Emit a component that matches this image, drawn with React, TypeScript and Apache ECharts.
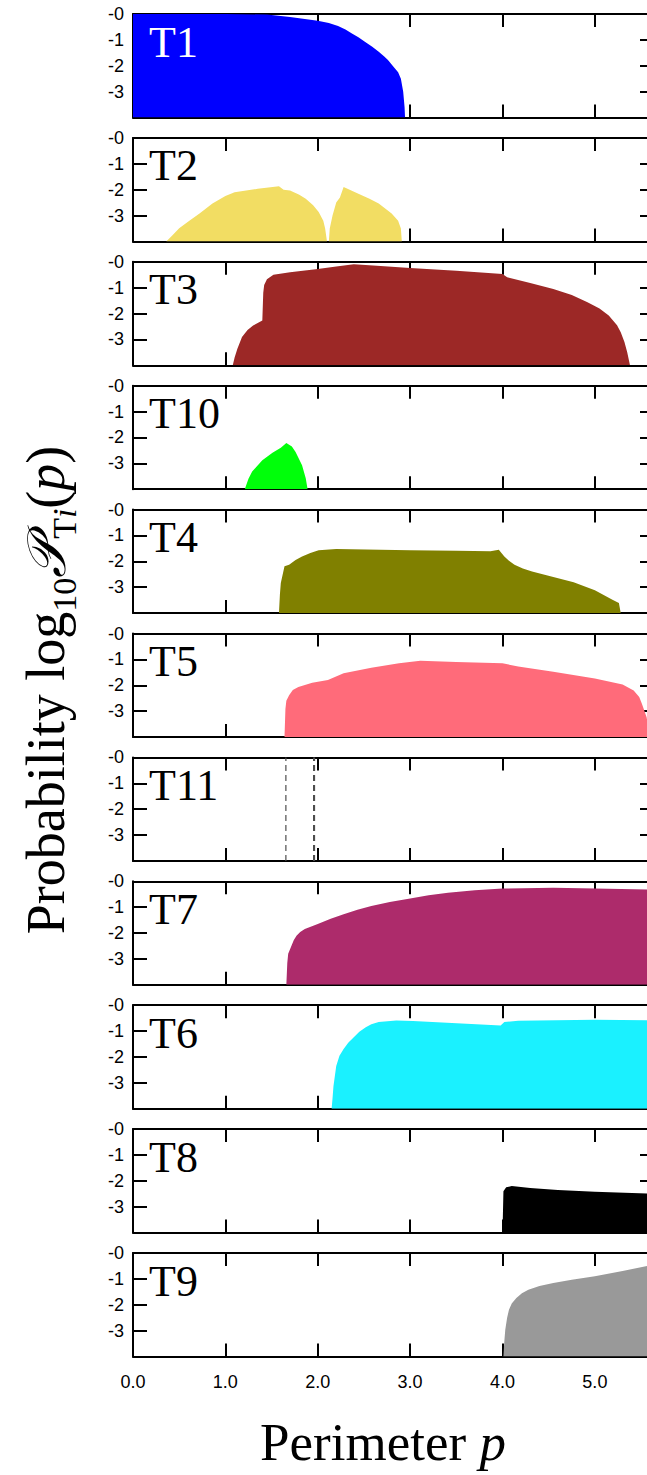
import React, { useEffect, useRef } from "react";
import * as echarts from "echarts";

// ---- data (perimeter p, log10 probability) ----
const panelNames = ["T1", "T2", "T3", "T10", "T4", "T5", "T11", "T7", "T6", "T8", "T9"];

const t1: [number, number][] = [[0, 0], [1.0, 0], [1.45, -0.02], [1.7, -0.12], [2.0, -0.26], [2.12, -0.35], [2.22, -0.46], [2.3, -0.6], [2.37, -0.75], [2.44, -0.9], [2.51, -1.07], [2.59, -1.27], [2.66, -1.46], [2.72, -1.64], [2.76, -1.78], [2.82, -2.04], [2.87, -2.25], [2.9, -2.5], [2.925, -3.0], [2.94, -3.6], [2.945, -4]];
const t2: [number, number][] = [[0.36, -4], [0.43, -3.75], [0.5, -3.49], [0.61, -3.2], [0.72, -2.92], [0.86, -2.54], [1.0, -2.25], [1.1, -2.1], [1.35, -1.97], [1.58, -1.87], [1.63, -2.0], [1.7, -2.03], [1.8, -2.2], [1.87, -2.35], [1.95, -2.6], [2.01, -2.86], [2.06, -3.2], [2.08, -3.5], [2.1, -4], [2.12, -4], [2.13, -3.5], [2.16, -3.0], [2.2, -2.5], [2.24, -2.3], [2.28, -1.9], [2.44, -2.16], [2.56, -2.35], [2.66, -2.54], [2.8, -2.92], [2.87, -3.2], [2.9, -3.5], [2.91, -4]];
const t3: [number, number][] = [[1.08, -4], [1.1, -3.7], [1.13, -3.36], [1.18, -2.91], [1.24, -2.64], [1.3, -2.46], [1.4, -2.27], [1.41, -1.2], [1.42, -0.9], [1.45, -0.67], [1.52, -0.5], [1.7, -0.4], [2.0, -0.28], [2.2, -0.18], [2.39, -0.09], [2.6, -0.14], [3.0, -0.24], [3.5, -0.35], [4.0, -0.47], [4.05, -0.6], [4.3, -0.82], [4.55, -1.05], [4.75, -1.28], [4.92, -1.56], [5.05, -1.8], [5.15, -2.08], [5.24, -2.45], [5.28, -2.72], [5.32, -3.1], [5.35, -3.5], [5.38, -4]];
const t10: [number, number][] = [[1.21, -4], [1.25, -3.6], [1.29, -3.32], [1.4, -2.88], [1.51, -2.59], [1.6, -2.4], [1.66, -2.21], [1.72, -2.35], [1.76, -2.56], [1.83, -3.07], [1.87, -3.58], [1.89, -4]];
const t4: [number, number][] = [[1.58, -4], [1.59, -3.3], [1.6, -2.84], [1.64, -2.19], [1.69, -2.13], [1.76, -1.95], [1.83, -1.81], [1.92, -1.68], [2.01, -1.57], [2.2, -1.52], [3.0, -1.57], [3.5, -1.59], [3.87, -1.61], [3.96, -1.55], [4.02, -1.81], [4.07, -1.98], [4.13, -2.13], [4.22, -2.28], [4.32, -2.39], [4.55, -2.6], [4.77, -2.81], [5.0, -3.12], [5.19, -3.48], [5.26, -3.61], [5.28, -4]];
const t5: [number, number][] = [[1.64, -4], [1.65, -2.92], [1.66, -2.6], [1.69, -2.39], [1.73, -2.18], [1.79, -2.07], [1.94, -1.9], [2.11, -1.8], [2.28, -1.54], [2.58, -1.32], [2.88, -1.15], [3.11, -1.05], [3.5, -1.1], [4.0, -1.15], [4.17, -1.28], [4.55, -1.48], [5.0, -1.74], [5.3, -1.97], [5.42, -2.2], [5.48, -2.45], [5.51, -2.72], [5.56, -3.24], [5.6, -4]];
const t11: [number, number][] = [];
const t11Dashes: number[] = [1.655, 1.955, 1.965];
const t7: [number, number][] = [[1.66, -4], [1.67, -3.17], [1.68, -2.8], [1.71, -2.54], [1.74, -2.28], [1.77, -2.1], [1.81, -1.96], [1.86, -1.84], [2.0, -1.65], [2.14, -1.45], [2.28, -1.27], [2.43, -1.1], [2.58, -0.95], [2.78, -0.8], [3.0, -0.66], [3.2, -0.54], [3.41, -0.44], [3.7, -0.35], [4.0, -0.28], [4.55, -0.25], [5.0, -0.28], [5.64, -0.32]];
const t6: [number, number][] = [[2.15, -4], [2.16, -3.6], [2.17, -3.13], [2.2, -2.35], [2.235, -1.95], [2.28, -1.69], [2.33, -1.45], [2.39, -1.24], [2.45, -1.03], [2.52, -0.85], [2.58, -0.74], [2.66, -0.65], [2.85, -0.59], [3.03, -0.61], [3.98, -0.78], [4.02, -0.65], [4.17, -0.6], [5.0, -0.56], [5.64, -0.59]];
const t8: [number, number][] = [[4.0, -4], [4.01, -2.4], [4.04, -2.25], [4.1, -2.2], [4.3, -2.28], [4.6, -2.35], [5.0, -2.42], [5.64, -2.5]];
const t9: [number, number][] = [[4.01, -4], [4.02, -3.4], [4.03, -2.97], [4.05, -2.5], [4.07, -2.19], [4.1, -1.95], [4.15, -1.74], [4.21, -1.56], [4.28, -1.42], [4.4, -1.28], [4.55, -1.16], [4.75, -1.03], [5.0, -0.9], [5.3, -0.7], [5.64, -0.45]];

const panelData = [t1, t2, t3, t10, t4, t5, t11, t7, t6, t8, t9];
const panelColors = ["#0000ff", "#f2dd63", "#9c2826", "#00ff0a", "#808000", "#ff6b7a", "#4d4d4d", "#ad2b6b", "#1af1ff", "#000000", "#999999"];

const X_MIN = 0;
const X_MAX = 5.64;
const Y_MIN = -4;
const Y_MAX = 0;

const GRID_LEFT = 133;
const GRID_WIDTH = 521;
const GRID_TOP0 = 14;
const GRID_STEP = 123.9;
const GRID_HEIGHT = 103.5;

export default function App() {
  const ref = useRef<HTMLDivElement>(null);
  useEffect(() => {
    if (!ref.current) return;
    const chart = echarts.init(ref.current, null, { renderer: "svg" });
    const N = panelNames.length;
    const grids: any[] = [];
    const xAxes: any[] = [];
    const yAxes: any[] = [];
    const series: any[] = [];
    const graphics: any[] = [];
    const lineCol = "#000";
    const sansFont = "Liberation Sans";
    const serifFont = "Liberation Serif";

    for (let k = 0; k < N; k++) {
      const top = GRID_TOP0 + GRID_STEP * k;
      grids.push({ left: GRID_LEFT, width: GRID_WIDTH, top, height: GRID_HEIGHT });
      const xBase = {
        gridIndex: k,
        type: "value",
        min: X_MIN,
        max: X_MAX,
        interval: 1,
        splitLine: { show: false },
        axisLine: { show: true, onZero: false, lineStyle: { color: lineCol, width: 2 } },
        axisTick: { show: true, inside: true, length: 13, lineStyle: { color: lineCol, width: 2 } },
      };
      xAxes.push({
        ...xBase,
        position: "bottom",
        axisLabel: {
          show: k === N - 1,
          margin: 16,
          color: "#000",
          fontFamily: sansFont,
          fontSize: 18,
          formatter: (v: number) => (Math.abs(v - Math.round(v)) < 1e-9 ? v.toFixed(1) : ""),
        },
      });
      xAxes.push({ ...xBase, position: "top", axisLabel: { show: false } });
      const yBase = {
        gridIndex: k,
        type: "value",
        min: Y_MIN,
        max: Y_MAX,
        interval: 1,
        splitLine: { show: false },
        axisLine: { show: true, onZero: false, lineStyle: { color: lineCol, width: 2 } },
        axisTick: { show: true, inside: true, length: 14, lineStyle: { color: lineCol, width: 2 } },
      };
      yAxes.push({
        ...yBase,
        position: "left",
        axisLabel: {
          show: true,
          margin: 9,
          color: "#000",
          fontFamily: sansFont,
          fontSize: 18,
          formatter: (v: number) => (v <= Y_MIN ? "" : v === 0 ? "-0" : String(v)),
        },
      });
      yAxes.push({ ...yBase, position: "right", axisLabel: { show: false } });

      if (panelNames[k] === "T11") {
        t11Dashes.forEach((xv) => {
          series.push({
            type: "line",
            xAxisIndex: 2 * k,
            yAxisIndex: 2 * k,
            data: [[xv, Y_MIN], [xv, Y_MAX]],
            showSymbol: false,
            symbol: "none",
            lineStyle: { color: panelColors[k], width: 1.2, type: [6, 4] },
            z: 2,
          });
        });
      } else {
        series.push({
          type: "line",
          xAxisIndex: 2 * k,
          yAxisIndex: 2 * k,
          data: panelData[k],
          showSymbol: false,
          symbol: "none",
          lineStyle: { width: 0, color: panelColors[k] },
          areaStyle: { color: panelColors[k], opacity: 1, origin: "start" },
          z: 2,
        });
      }

      graphics.push({
        type: "text",
        x: 149,
        y: top + 28,
        z: 100,
        style: {
          text: panelNames[k],
          fill: k === 0 ? "#ffffff" : "#000000",
          font: `44px "${serifFont}"`,
          textAlign: "left",
          textVerticalAlign: "middle",
        },
      });
    }

    // axis titles
    graphics.push({
      type: "text",
      x: 383,
      y: 1442,
      z: 100,
      style: {
        text: "{a|Perimeter }{i|p}",
        textAlign: "center",
        textVerticalAlign: "middle",
        rich: {
          a: { fontFamily: serifFont, fontSize: 53, fill: "#000" },
          i: { fontFamily: serifFont, fontSize: 53, fontStyle: "italic", fill: "#000" },
        },
      },
    });
    graphics.push({
      type: "text",
      x: 46,
      y: 690,
      rotation: Math.PI / 2,
      z: 100,
      style: {
        text: "{a|Probability log}{s|10}{c|𝒫}{s|T}{si|i}{a|(}{ai|p}{a|)}",
        textAlign: "center",
        textVerticalAlign: "middle",
        rich: {
          a: { fontFamily: serifFont, fontSize: 54, lineHeight: 70, verticalAlign: "middle", fill: "#000" },
          ai: { fontFamily: serifFont, fontSize: 54, lineHeight: 70, fontStyle: "italic", verticalAlign: "middle", fill: "#000" },
          c: { fontFamily: `"DejaVu Serif", "DejaVu Sans", serif`, fontSize: 54, lineHeight: 70, fontStyle: "italic", verticalAlign: "middle", fill: "#000" },
          s: { fontFamily: serifFont, fontSize: 34, lineHeight: 34, verticalAlign: "bottom", fill: "#000" },
          si: { fontFamily: serifFont, fontSize: 34, lineHeight: 34, fontStyle: "italic", verticalAlign: "bottom", fill: "#000" },
        },
      },
    });

    chart.setOption({
      animation: false,
      backgroundColor: "#ffffff",
      grid: grids,
      xAxis: xAxes,
      yAxis: yAxes,
      series,
      graphic: graphics,
    });
    return () => chart.dispose();
  }, []);

  return (
    <div style={{ position: "absolute", left: 0, top: 0, width: 647, height: 1475, overflow: "hidden", background: "#fff" }}>
      <div ref={ref} style={{ width: 670, height: 1475 }} />
    </div>
  );
}
